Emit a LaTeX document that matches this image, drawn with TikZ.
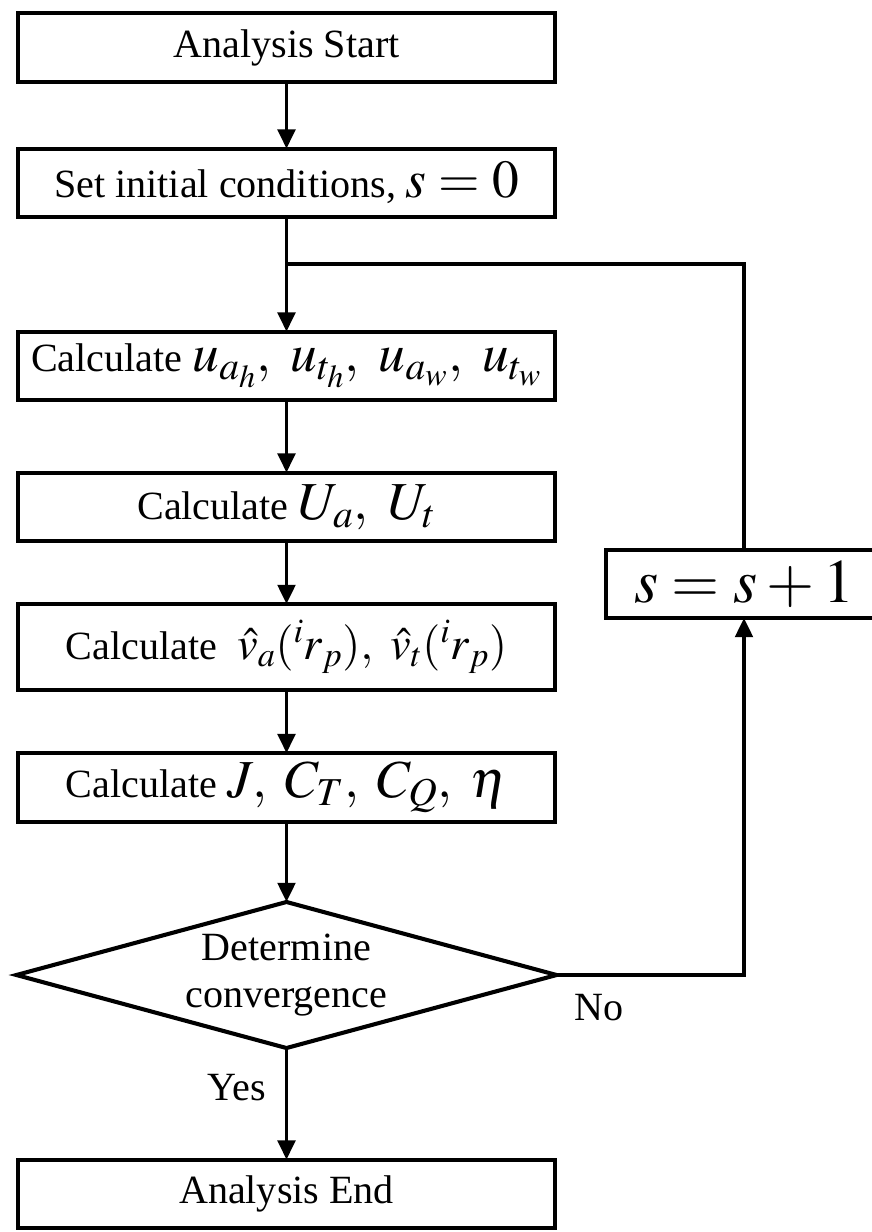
\documentclass[tikz,border=0pt]{standalone}
\usepackage{mathptmx}
\usepackage{fontspec}
\setmainfont{Liberation Serif}
\usetikzlibrary{shapes.geometric,arrows.meta}
\newcommand{\mth}[1]{{\fontsize{38}{40}\selectfont$#1$}}
\newcommand{\mthv}[1]{{\fontsize{33}{36}\selectfont$#1$}}
\tikzset{
  procbox/.style={draw=black, line width=2.9pt, fill=white, minimum width=13.425cm, minimum height=1.72cm, inner sep=0pt, outer sep=0pt, font=\fontsize{28.5}{32}\selectfont},
  decbox/.style={draw=black, line width=2.9pt, shape=diamond, minimum width=13.5cm, minimum height=3.65cm, inner sep=0pt, outer sep=0pt, aspect=3.7, align=center, font=\fontsize{28.5}{33}\selectfont},
  conn/.style={line width=2.5pt},
  arr/.style={line width=2.5pt, -{Triangle[width=0.44cm,length=0.48cm]}},
  lbl/.style={font=\fontsize{28.5}{32}\selectfont, inner sep=0pt}
}
\begin{document}
\begin{tikzpicture}[x=0.025cm,y=-0.025cm]
\fill[white] (0,0) rectangle (872,1232);
\useasboundingbox (0,0) rectangle (872,1232);
\clip (0,0) rectangle (872,1232);
\node[procbox] (start) at (286.5,47.5) {Analysis Start};
\node[procbox] (init) at (286.5,183) {Set initial conditions, \mth{s=0}};
\coordinate (fb) at (286.5,264);
\node[procbox] (calcu) at (286.5,366) {Calculate \mth{u_{a_h},\ u_{t_h},\ u_{a_w},\ u_{t_w}}};
\node[procbox] (calcU) at (286.5,507) {Calculate \mth{U_a,\ U_t}};
\node[procbox, minimum height=2.15cm] (calcv) at (286.5,647) {Calculate\ \ \mthv{\hat v_a({}^i r_p),\ \hat v_t({}^i r_p)}};
\node[procbox] (calcJ) at (286.5,787.5) {Calculate \mth{J,\;C_T,\;C_Q,\;\eta}};
\node[decbox] (conv) at (286.5,975) {Determine\\convergence};
\node[procbox] (finish) at (286.5,1194) {Analysis End};
\node[procbox, minimum width=6.9cm, minimum height=1.7cm, font=\fontsize{44}{48}\selectfont] (incr) at (744,584) {$s=s+1$};
\node[lbl] (no) at (599,1008) {No};
\node[lbl] (yes) at (237,1088) {Yes};
\draw[arr] (start) -- (init);
\draw[arr] (init) -- (calcu);
\draw[conn] (incr.north) |- (fb);
\draw[arr] (calcu) -- (calcU);
\draw[arr] (calcU) -- (calcv);
\draw[arr] (calcv) -- (calcJ);
\draw[arr] (calcJ) -- (conv);
\draw[arr] (conv) -- (finish);
\draw[arr] (conv.east) -| (incr.south);
\end{tikzpicture}
\end{document}
